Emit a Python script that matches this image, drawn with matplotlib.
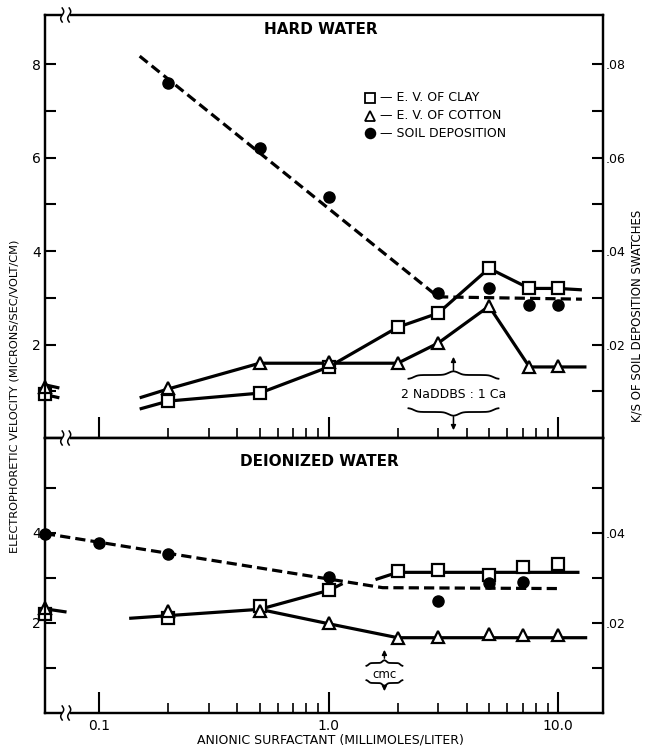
import numpy as np
import matplotlib
matplotlib.use("Agg")
import matplotlib.pyplot as plt
from matplotlib.lines import Line2D
from matplotlib.patches import Rectangle, FancyArrowPatch
from matplotlib.transforms import IdentityTransform
from matplotlib.ticker import FixedLocator, NullFormatter, FuncFormatter

plt.rcParams['font.family'] = ['DejaVu Sans']

# concentration where no surfactant is present (drawn on the left axis)
x0 = 0.058

# ---- hard water ----
conc_hw = [0.2, 0.5, 1.0, 2.0, 3.0, 5.0, 7.5, 10.0]
clay_hw = [0.79, 0.96, 1.52, 2.37, 2.67, 3.63, 3.2, 3.2]
cotton_hw = [1.07, 1.6, 1.63, 1.6, 2.03, 2.82, 1.52, 1.54]
soil_hw_x = [0.2, 0.5, 1.0, 3.0, 5.0, 7.5, 10.0]
soil_hw = [0.076, 0.062, 0.0515, 0.031, 0.032, 0.0284, 0.0284]
clay_hw0 = 0.94
cotton_hw0 = 1.1

clay_hw_fit_x = [0.15, 0.2, 0.5, 1.0, 2.0, 3.0, 5.0, 7.5, 10.0, 12.7]
clay_hw_fit = [0.62, 0.79, 0.96, 1.52, 2.37, 2.67, 3.63, 3.2, 3.2, 3.17]
cotton_hw_fit_x = [0.15, 0.2, 0.5, 2.0, 3.0, 5.0, 7.5, 10.0, 13.3]
cotton_hw_fit = [0.86, 1.05, 1.6, 1.6, 2.03, 2.82, 1.52, 1.52, 1.52]
soil_hw_fit_x = [0.15, 3.0, 12.7]
soil_hw_fit = [0.0817, 0.0302, 0.0297]
stub_x = [0.059, 0.067]
clay_hw_stub = [0.92, 0.86]
cotton_hw_stub = [1.13, 1.07]

# ---- deionized water ----
conc_di = [0.2, 0.5, 1.0, 2.0, 3.0, 5.0, 7.0, 10.0]
clay_di = [2.11, 2.38, 2.73, 3.16, 3.18, 3.07, 3.24, 3.31]
cotton_di = [2.27, 2.27, 2.0, 1.67, 1.69, 1.76, 1.74, 1.74]
soil_di_x = [0.1, 0.2, 1.0, 3.0, 5.0, 7.0]
soil_di = [0.0378, 0.0353, 0.0302, 0.0249, 0.0289, 0.0291]
clay_di0 = 2.2
cotton_di0 = 2.33
soil_di0 = 0.0398

soil_di_fit_x = [x0, 1.72, 10.4]
soil_di_fit = [0.0398, 0.0278, 0.0276]
cotton_di_fit_x = [0.135, 0.5, 1.0, 2.0, 13.4]
cotton_di_fit = [2.1, 2.3, 1.98, 1.67, 1.67]
clay_di_fit1_x = [0.5, 1.0, 1.15]
clay_di_fit1 = [2.3, 2.72, 2.87]
clay_di_fit2_x = [1.6, 2.0, 12.4]
clay_di_fit2 = [2.96, 3.12, 3.12]
cotton_di_stub_x = [x0, 0.072]
cotton_di_stub = [2.31, 2.24]

W, H = 645, 748
fig = plt.figure(figsize=(W / 100, H / 100), dpi=100)
fig.patch.set_facecolor('white')

L, R = 45 / W, 603 / W
ax_top = fig.add_axes([L, 1 - 438 / H, R - L, (438 - 15) / H])
ax_bot = fig.add_axes([L, 1 - 713 / H, R - L, (713 - 438) / H])
ax_top2 = ax_top.twinx()
ax_bot2 = ax_bot.twinx()

lw = 2.3
sq = dict(marker='s', ms=8, mfc='white', mec='black', mew=1.6, ls='none', zorder=5, clip_on=False)
tri = dict(marker='^', ms=9, mfc='white', mec='black', mew=1.6, ls='none', zorder=5, clip_on=False)
dot = dict(marker='o', ms=8, color='black', ls='none', zorder=6, clip_on=False)
solid = dict(color='black', lw=lw, solid_capstyle='butt', zorder=3, clip_on=False)
dashed = dict(color='black', lw=lw, dashes=(3.2, 1.6), zorder=3, clip_on=False)

# hard water
ax_top.plot(clay_hw_fit_x, clay_hw_fit, **solid)
ax_top.plot(cotton_hw_fit_x, cotton_hw_fit, **solid)
ax_top.plot(stub_x, clay_hw_stub, **solid)
ax_top.plot(stub_x, cotton_hw_stub, **solid)
ax_top.plot(conc_hw, clay_hw, **sq)
ax_top.plot(conc_hw, cotton_hw, **tri)
ax_top.plot([x0], [clay_hw0], **sq)
ax_top.plot([x0], [cotton_hw0], **tri)
ax_top2.plot(soil_hw_fit_x, soil_hw_fit, **dashed)
ax_top2.plot(soil_hw_x, soil_hw, **dot)

# deionized water
ax_bot.plot(cotton_di_fit_x, cotton_di_fit, **solid)
ax_bot.plot(clay_di_fit1_x, clay_di_fit1, **solid)
ax_bot.plot(clay_di_fit2_x, clay_di_fit2, **solid)
ax_bot.plot(cotton_di_stub_x, cotton_di_stub, **solid)
ax_bot.plot(conc_di, clay_di, **sq)
ax_bot.plot(conc_di, cotton_di, **tri)
ax_bot.plot([x0], [clay_di0], **sq)
ax_bot.plot([x0], [cotton_di0], **tri)
ax_bot2.plot(soil_di_fit_x, soil_di_fit, **dashed)
ax_bot2.plot(soil_di_x, soil_di, **dot)
ax_bot2.plot([x0], [soil_di0], **dot)

xlim = (x0, 15.7)
for ax in (ax_top, ax_bot, ax_top2, ax_bot2):
    ax.set_xscale('log')
    ax.set_xlim(*xlim)
    for s in ax.spines.values():
        s.set_linewidth(1.6)

ax_top.set_ylim(0, 9.05)
ax_top2.set_ylim(0, 0.0905)
ax_bot.set_ylim(0, 6.1)
ax_bot2.set_ylim(0, 0.061)

# make the twin axes transparent so the primary lines show
for ax in (ax_top2, ax_bot2):
    ax.patch.set_visible(False)

# x ticks
major_x = [0.1, 1.0, 10.0]
minor_x = [m * d for d in (0.1, 1.0) for m in range(2, 10)]
for ax in (ax_top, ax_bot):
    ax.xaxis.set_major_locator(FixedLocator(major_x))
    ax.xaxis.set_minor_locator(FixedLocator(minor_x))
    ax.tick_params(axis='x', which='major', direction='in', length=15, width=1.5, top=False)
    ax.tick_params(axis='x', which='minor', direction='in', length=7, width=1.2, top=False)
for ax in (ax_top2, ax_bot2):
    ax.tick_params(axis='x', which='both', bottom=False, top=False, labelbottom=False)
ax_top.xaxis.set_major_formatter(NullFormatter())
ax_top.xaxis.set_minor_formatter(NullFormatter())
ax_bot.xaxis.set_major_formatter(FuncFormatter(lambda v, p: f"{v:.1f}"))
ax_bot.xaxis.set_minor_formatter(NullFormatter())
ax_bot.tick_params(axis='x', which='major', labelsize=10, pad=4)

# y ticks left
ax_top.yaxis.set_major_locator(FixedLocator([2, 4, 6, 8]))
ax_top.yaxis.set_minor_locator(FixedLocator([1, 3, 5, 7]))
ax_bot.yaxis.set_major_locator(FixedLocator([2, 4]))
ax_bot.yaxis.set_minor_locator(FixedLocator([1, 3, 5]))
for ax in (ax_top, ax_bot):
    ax.yaxis.set_major_formatter(FuncFormatter(lambda v, p: f"{v:.0f}"))
    ax.tick_params(axis='y', which='both', direction='in', length=8, width=1.5,
                   right=False, labelsize=10, pad=3)

# y ticks right
ax_top2.yaxis.set_major_locator(FixedLocator([0.02, 0.04, 0.06, 0.08]))
ax_top2.yaxis.set_minor_locator(FixedLocator([0.01, 0.03, 0.05, 0.07]))
ax_bot2.yaxis.set_major_locator(FixedLocator([0.02, 0.04]))
ax_bot2.yaxis.set_minor_locator(FixedLocator([0.01, 0.03, 0.05]))
for ax in (ax_top2, ax_bot2):
    ax.yaxis.set_major_formatter(FuncFormatter(lambda v, p: f"{v:.2f}".lstrip('0')))
    ax.tick_params(axis='y', which='both', direction='in', length=8, width=1.5,
                   left=False, labelsize=9, pad=2)

# titles
title_font = dict(fontsize=11, fontweight='bold', ha='center', va='center',
                  family=['Liberation Sans Narrow', 'DejaVu Sans'])
ax_top.text(0.495, 0.965, 'HARD WATER', transform=ax_top.transAxes, **title_font)
ax_bot.text(0.491, 0.915, 'DEIONIZED WATER', transform=ax_bot.transAxes, **title_font)

# legend drawn by hand
legend_items = [('s', 'white', 'E. V. OF CLAY'),
                ('^', 'white', 'E. V. OF COTTON'),
                ('o', 'black', 'SOIL DEPOSITION')]
for i, (m, fc, label) in enumerate(legend_items):
    yy = 0.804 - i * 0.042
    ax_top.plot([0.582], [yy], marker=m, ms=7, mfc=fc, mec='black', mew=1.3,
                transform=ax_top.transAxes, ls='none', clip_on=False)
    ax_top.text(0.6, yy, '\u2014 ' + label, transform=ax_top.transAxes,
                fontsize=9, va='center', ha='left')

# axis labels
fig.text(15 / W, 1 - 396 / H, 'ELECTROPHORETIC VELOCITY (MICRONS/SEC/VOLT/CM)',
         rotation=90, ha='center', va='center', fontsize=8.2)
fig.text(637 / W, 1 - 316 / H, 'K/S OF SOIL DEPOSITION SWATCHES',
         rotation=90, ha='center', va='center', fontsize=8.5)
fig.text(330 / W, 1 - 740 / H, 'ANIONIC SURFACTANT (MILLIMOLES/LITER)',
         ha='center', va='center', fontsize=9)

ident = IdentityTransform()


def to_px(ax, xa, ya):
    return ax.transAxes.transform((xa, ya))


def axis_break(ax, xa, ya):
    cx, cy = to_px(ax, xa, ya)
    fig.add_artist(Rectangle((cx - 4, cy - 3), 8, 6, transform=ident,
                             facecolor='white', edgecolor='none', zorder=20))
    t = np.linspace(-1, 1, 30)
    for dx in (-4, 3):
        xs = cx + dx + 1.5 * np.sin(np.pi * t)
        ys = cy + 7 * t
        fig.add_artist(Line2D(xs, ys, transform=ident, color='black', lw=1.1, zorder=21))


for ax, ya in ((ax_top, 1.0), (ax_top, 0.0), (ax_bot, 0.0)):
    axis_break(ax, 0.038, ya)


def brace(cx, cy, w, h, up=True):
    t = np.linspace(0, 1, 80)
    s = 0.5 / (1 + np.exp(-22 * (t - 0.12))) + 0.5 / (1 + np.exp(-22 * (t - 0.88)))
    sign = 1 if up else -1
    xs = np.concatenate([cx - w / 2 + t * w / 2, cx + w / 2 - t[::-1] * w / 2])
    ys = np.concatenate([cy + sign * h * (s - 0.5), cy + sign * h * (s[::-1] - 0.5)])
    fig.add_artist(Line2D(xs, ys, transform=ident, color='black', lw=1.3, zorder=21))


def arrow(x, y1, y2):
    fig.add_artist(FancyArrowPatch((x, y1), (x, y2), transform=ident,
                                   arrowstyle='-|>', mutation_scale=7, lw=1.1,
                                   color='black', zorder=21))


# 2 NaDDBS : 1 Ca marker (hard water)
ratio_x = 3.5
px_r = ax_top.transData.transform((ratio_x, 1))[0]
base = ax_top.transAxes.transform((0, 0))[1]
brace(px_r, base + 63, 90, 8, up=True)
arrow(px_r, base + 65, base + 84)
fig.text(px_r, base + 44, '2 NaDDBS : 1 Ca', transform=ident,
         ha='center', va='center', fontsize=9)
brace(px_r, base + 26, 90, 8, up=False)
arrow(px_r, base + 24, base + 5)

# cmc marker (deionized water)
cmc_x = 1.75
px_c = ax_bot.transData.transform((cmc_x, 1))[0]
base = ax_bot.transAxes.transform((0, 0))[1]
brace(px_c, base + 50, 36, 6, up=True)
arrow(px_c, base + 52, base + 66)
fig.text(px_c, base + 38, 'cmc', transform=ident, ha='center', va='center', fontsize=8.5)
brace(px_c, base + 30, 36, 6, up=False)
arrow(px_c, base + 28, base + 19)

fig.savefig('out.png', dpi=100, facecolor='white')
